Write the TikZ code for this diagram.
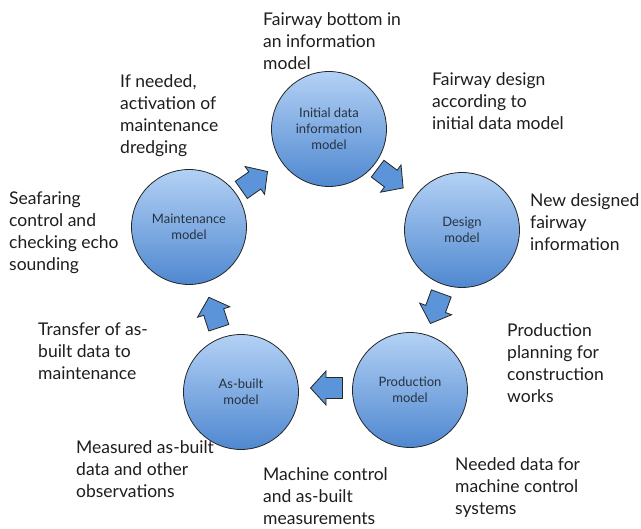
\documentclass[tikz,border=0pt]{standalone}
\usepackage{fontspec}
\setmainfont{Lato}
\definecolor{ctop}{HTML}{B3D1F5}
\definecolor{cbot}{HTML}{4F88D0}
\definecolor{afill}{HTML}{5B94D8}
\definecolor{txt}{HTML}{1E1E1E}
\definecolor{ctxt}{HTML}{26323F}
\tikzset{
  circ/.style={circle, minimum size=115pt, inner sep=0pt, draw=black!85, line width=0.8pt,
    top color=ctop, bottom color=cbot, align=center, text=ctxt,
    font=\fontsize{13}{16}\selectfont},
  lbl/.style={anchor=north west, inner sep=0pt, align=left, text=txt,
    font=\fontsize{17.5}{22}\selectfont},
  blockarrow/.pic={
    \filldraw[fill=afill, draw=black!85, line width=0.8pt]
      (-15.5,-10.5) -- (1,-10.5) -- (1,-17) -- (16.5,0) -- (1,17) -- (1,10.5) -- (-15.5,10.5) -- cycle;
  }
}
\begin{document}
\begin{tikzpicture}[x=1pt, y=-1pt]
\useasboundingbox (0,0) rectangle (641,529);
\fill[white] (0,0) rectangle (641,529);

% circles
\node[circ] (init) at (329,129) {Initial data\\information\\model};
\node[circ] (design) at (462,230) {Design\\model};
\node[circ] (prod) at (410,390) {Production\\model};
\node[circ] (asbuilt) at (241,392) {As-built\\model};
\node[circ] (maint) at (189,227) {Maintenance\\model};

% block arrows
\pic[rotate=-37] (a1) at (390,178) {blockarrow};
\pic[rotate=-110] (a2) at (436,308) {blockarrow};
\pic[rotate=180] (a3) at (327,388) {blockarrow};
\pic[rotate=108] (a4) at (214,313) {blockarrow};
\pic[rotate=35] (a5) at (254,181) {blockarrow};

% labels
\node[lbl] (l1) at (263,12) {Fairway bottom in\\an information\\model};
\node[lbl] (l2) at (432,72) {Fairway design\\according to\\initial data model};
\node[lbl] (l3) at (530,193) {New designed\\fairway\\information};
\node[lbl] (l4) at (507,323) {Production\\planning for\\construction\\works};
\node[lbl] (l5) at (455,457) {Needed data for\\machine control\\systems};
\node[lbl] (l6) at (263,467) {Machine control\\and as-built\\measurements};
\node[lbl] (l7) at (76,440) {Measured as-built\\data and other\\observations};
\node[lbl] (l8) at (38,323) {Transfer of as-\\built data to\\maintenance};
\node[lbl] (l9) at (9,192) {Seafaring\\control and\\checking echo\\sounding};
\node[lbl] (l10) at (120,74) {If needed,\\activation of\\maintenance\\dredging};
\end{tikzpicture}
\end{document}
